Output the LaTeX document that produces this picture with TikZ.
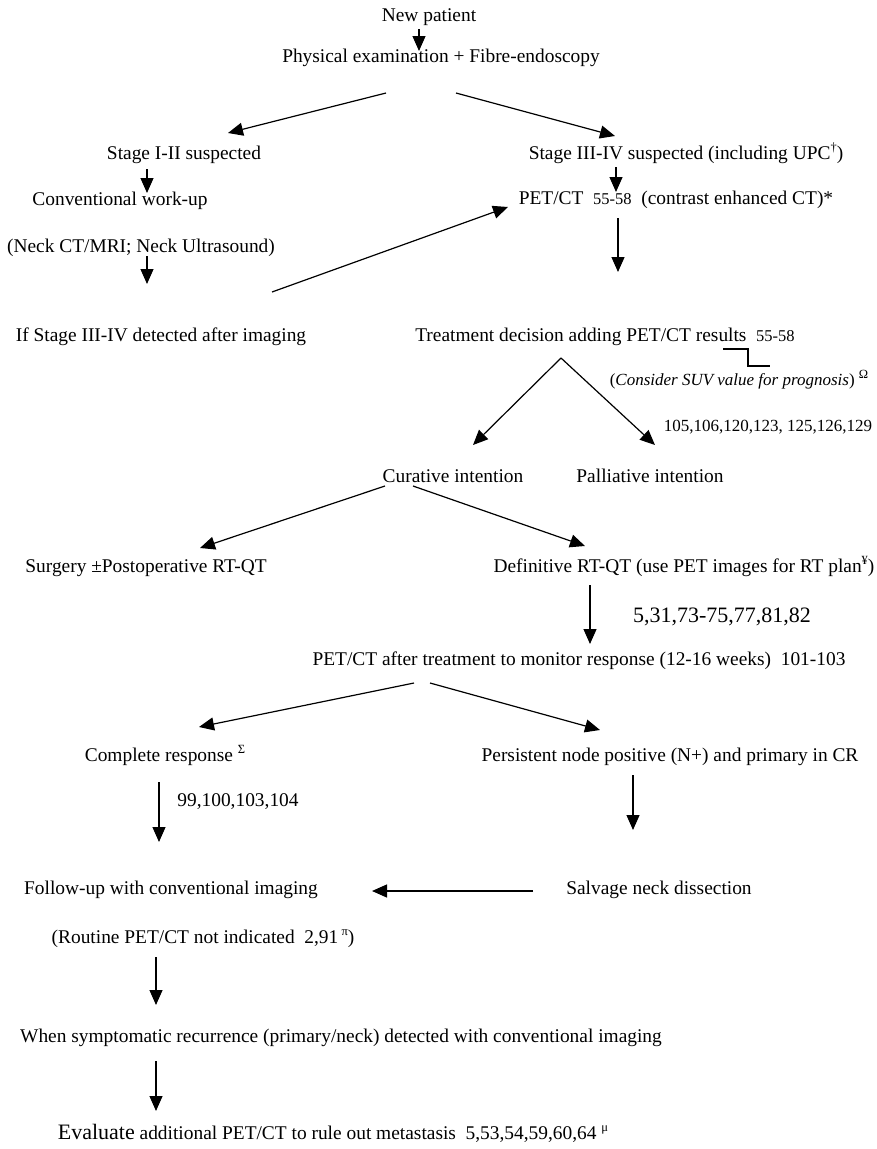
\documentclass[tikz,border=0pt]{standalone}
\usepackage{fontspec}
\setmainfont{Liberation Serif}
\usetikzlibrary{arrows.meta}
\newcommand{\sm}[1]{{\fontsize{16.5}{18}\selectfont #1}}
\newcommand{\sps}[1]{\raisebox{0.4em}{\fontsize{12.5}{13}\selectfont #1}}
\begin{document}
\begin{tikzpicture}[x=1pt,y=-1pt,
  lbl/.style={inner sep=0pt,text height=13pt,text depth=4pt,font=\fontsize{19.4}{22}\selectfont},
  arr/.style={line width=1.2pt,-{Triangle[length=15pt,width=13pt]}},
  ln/.style={line width=1.2pt}]
\useasboundingbox (0,0) rectangle (877,1149);
% texts
\node[lbl] (np) at (429,17) {New patient};
\node[lbl] (pe) at (441,58) {Physical examination + Fibre-endoscopy};
\node[lbl] (s12) at (184,155) {Stage I-II suspected};
\node[lbl] (s34) at (686,155) {Stage III-IV suspected (including UPC\sps{\dag})};
\node[lbl] (cw) at (120,201) {Conventional work-up};
\node[lbl] (pet) at (676,200) {PET/CT\ \ \sm{55-58}\ \ (contrast enhanced CT)*};
\node[lbl] (neck) at (141,248) {(Neck CT/MRI; Neck Ultrasound)};
\node[lbl] (ifs) at (161,337) {If Stage III-IV detected after imaging};
\node[lbl] (td) at (605,337) {Treatment decision adding PET/CT results\ \ \sm{55-58}};
\node[lbl] (suv) at (739,381) {\fontsize{17}{20}\selectfont(\textit{Consider SUV value for prognosis}) \sps{Ω}};
\node[lbl] (r1) at (768,427) {\fontsize{17}{20}\selectfont 105,106,120,123, 125,126,129};
\node[lbl] (cur) at (453,478) {Curative intention};
\node[lbl] (pal) at (650,478) {Palliative intention};
\node[lbl] (sur) at (146,568) {Surgery ±Postoperative RT-QT};
\node[lbl] (def) at (684,568) {Definitive RT-QT (use PET images for RT plan\sps{¥})};
\node[lbl] (r2) at (722,618) {\fontsize{22}{24}\selectfont 5,31,73-75,77,81,82};
\node[lbl] (mon) at (579,661) {PET/CT after treatment to monitor response (12-16 weeks)\ \ 101-103};
\node[lbl] (cr) at (165,757) {Complete response \sps{Σ}};
\node[lbl] (pn) at (670,757) {Persistent node positive (N+) and primary in CR};
\node[lbl] (r3) at (238,802) {99,100,103,104};
\node[lbl] (fu) at (171,890) {Follow-up with conventional imaging};
\node[lbl] (sal) at (659,890) {Salvage neck dissection};
\node[lbl] (rout) at (203,939) {(Routine PET/CT not indicated\ \ 2,91\,\sps{π})};
\node[lbl] (when) at (341,1038) {When symptomatic recurrence (primary/neck) detected with conventional imaging};
\node[lbl] (eval) at (333,1135) {{\fontsize{22}{24}\selectfont Evaluate} additional PET/CT to rule out metastasis\ \ 5,53,54,59,60,64 \sps{μ}};
% connector end points
\coordinate (a1s) at (419,29);  \coordinate (a1e) at (419,51);
\coordinate (a2s) at (386,93);  \coordinate (a2e) at (228,133);
\coordinate (a3s) at (456,93);  \coordinate (a3e) at (615,136);
\coordinate (a4s) at (147,169); \coordinate (a4e) at (147,193);
\coordinate (a5s) at (616,167); \coordinate (a5e) at (616,192);
\coordinate (a6s) at (147,256); \coordinate (a6e) at (147,284);
\coordinate (a7s) at (272,292); \coordinate (a7e) at (508,207);
\coordinate (a8s) at (618,218); \coordinate (a8e) at (618,272);
\coordinate (st1) at (723,349); \coordinate (st2) at (748,349);
\coordinate (st3) at (748,366); \coordinate (st4) at (770,366);
\coordinate (pk) at (561,358);
\coordinate (a9e) at (473,445); \coordinate (a10e) at (655,445);
\coordinate (a11s) at (385,486); \coordinate (a11e) at (200,548);
\coordinate (a12s) at (413,486); \coordinate (a12e) at (585,546);
\coordinate (a13s) at (590,585); \coordinate (a13e) at (590,644);
\coordinate (a14s) at (414,683); \coordinate (a14e) at (199,727);
\coordinate (a15s) at (430,683); \coordinate (a15e) at (600,730);
\coordinate (a16s) at (159,782); \coordinate (a16e) at (159,842);
\coordinate (a17s) at (633,775); \coordinate (a17e) at (633,830);
\coordinate (a18s) at (533,891); \coordinate (a18e) at (372,891);
\coordinate (a19s) at (156,957); \coordinate (a19e) at (156,1005);
\coordinate (a20s) at (156,1061); \coordinate (a20e) at (156,1111);
% connectors
\draw[arr] (a1s) -- (a1e);
\draw[arr] (a2s) -- (a2e);
\draw[arr] (a3s) -- (a3e);
\draw[arr] (a4s) -- (a4e);
\draw[arr] (a5s) -- (a5e);
\draw[arr] (a6s) -- (a6e);
\draw[arr] (a7s) -- (a7e);
\draw[arr] (a8s) -- (a8e);
\draw[ln] (st1) -- (st2) -- (st3) -- (st4);
\draw[arr] (pk) -- (a9e);
\draw[arr] (pk) -- (a10e);
\draw[arr] (a11s) -- (a11e);
\draw[arr] (a12s) -- (a12e);
\draw[arr] (a13s) -- (a13e);
\draw[arr] (a14s) -- (a14e);
\draw[arr] (a15s) -- (a15e);
\draw[arr] (a16s) -- (a16e);
\draw[arr] (a17s) -- (a17e);
\draw[arr] (a18s) -- (a18e);
\draw[arr] (a19s) -- (a19e);
\draw[arr] (a20s) -- (a20e);
\end{tikzpicture}
\end{document}
